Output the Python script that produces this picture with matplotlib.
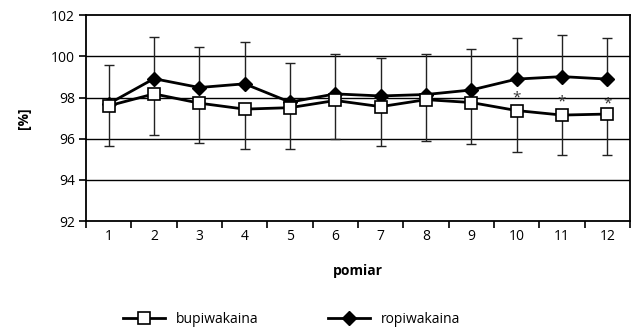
import matplotlib
matplotlib.use("Agg")
import matplotlib.pyplot as plt
import numpy as np

plt.rcParams['font.family'] = ['Open Sans', 'DejaVu Sans']

pomiar = [1, 2, 3, 4, 5, 6, 7, 8, 9, 10, 11, 12]
bupi = [97.60, 98.18, 97.73, 97.44, 97.51, 97.86, 97.56, 97.90, 97.76, 97.37, 97.15, 97.20]
bupi_sd = [1.93, 1.99, 1.94, 1.93, 2.00, 1.86, 1.89, 2.00, 2.04, 2.01, 1.92, 2.00]
ropi = [97.70, 98.92, 98.49, 98.67, 97.78, 98.18, 98.08, 98.15, 98.37, 98.90, 99.02, 98.90]
ropi_sd = [1.89, 2.03, 1.99, 2.05, 1.89, 1.96, 1.85, 1.99, 1.98, 2.01, 2.01, 2.01]
sig = [10, 11, 12]
sig_y = [98.24, 98.05, 97.94]

fig = plt.figure(figsize=(6.34, 3.33), dpi=100)
ax = fig.add_axes([0.1356, 0.3363, 0.8581, 0.6177])

zeros = [0] * len(pomiar)
ax.errorbar(pomiar, ropi, yerr=[zeros, ropi_sd], fmt='none', ecolor='#222222',
            elinewidth=1.0, capsize=3.6, capthick=1.0, zorder=2)
ax.errorbar(pomiar, bupi, yerr=[bupi_sd, zeros], fmt='none', ecolor='#222222',
            elinewidth=1.0, capsize=3.6, capthick=1.0, zorder=2)

l1, = ax.plot(pomiar, bupi, color='black', lw=2.0, marker='s', ms=8.5,
              mfc='white', mec='black', mew=1.2, zorder=4, label='bupiwakaina')
l2, = ax.plot(pomiar, ropi, color='black', lw=2.0, marker='D', ms=7,
              mfc='black', mec='black', zorder=3, label='ropiwakaina')

for x, y in zip(sig, sig_y):
    ax.annotate('*', (x, y), xytext=(0, -4), textcoords='offset points',
                ha='center', va='center', fontsize=11, color='#333333', zorder=5)

ax.set_xlim(0.5, 12.5)
ax.set_ylim(92, 102)
ax.set_yticks([92, 94, 96, 98, 100, 102])
ax.set_xticks(pomiar)
ax.set_xticks(np.arange(0.5, 13, 1), minor=True)
ax.tick_params(axis='x', which='major', length=0, pad=6, labelsize=10)
ax.tick_params(axis='x', which='minor', length=5, width=1.2, direction='out')
ax.tick_params(axis='y', length=5, width=1.2, direction='out', labelsize=10, pad=3)
for y in [94, 96, 98, 100]:
    ax.axhline(y, color='black', lw=1.0, zorder=1)
for s in ax.spines.values():
    s.set_linewidth(1.3)

ax.set_xlabel('pomiar', fontweight='bold', fontsize=10, labelpad=14)
ax.set_ylabel('[%]', fontweight='bold', fontsize=10, labelpad=14)

fig.legend(handles=[l1, l2], loc='lower center', bbox_to_anchor=(0.46, -0.02), ncol=2,
           frameon=False, fontsize=10, handlelength=3.0, columnspacing=5, handletextpad=0.8)

fig.savefig('out.png', dpi=100)
